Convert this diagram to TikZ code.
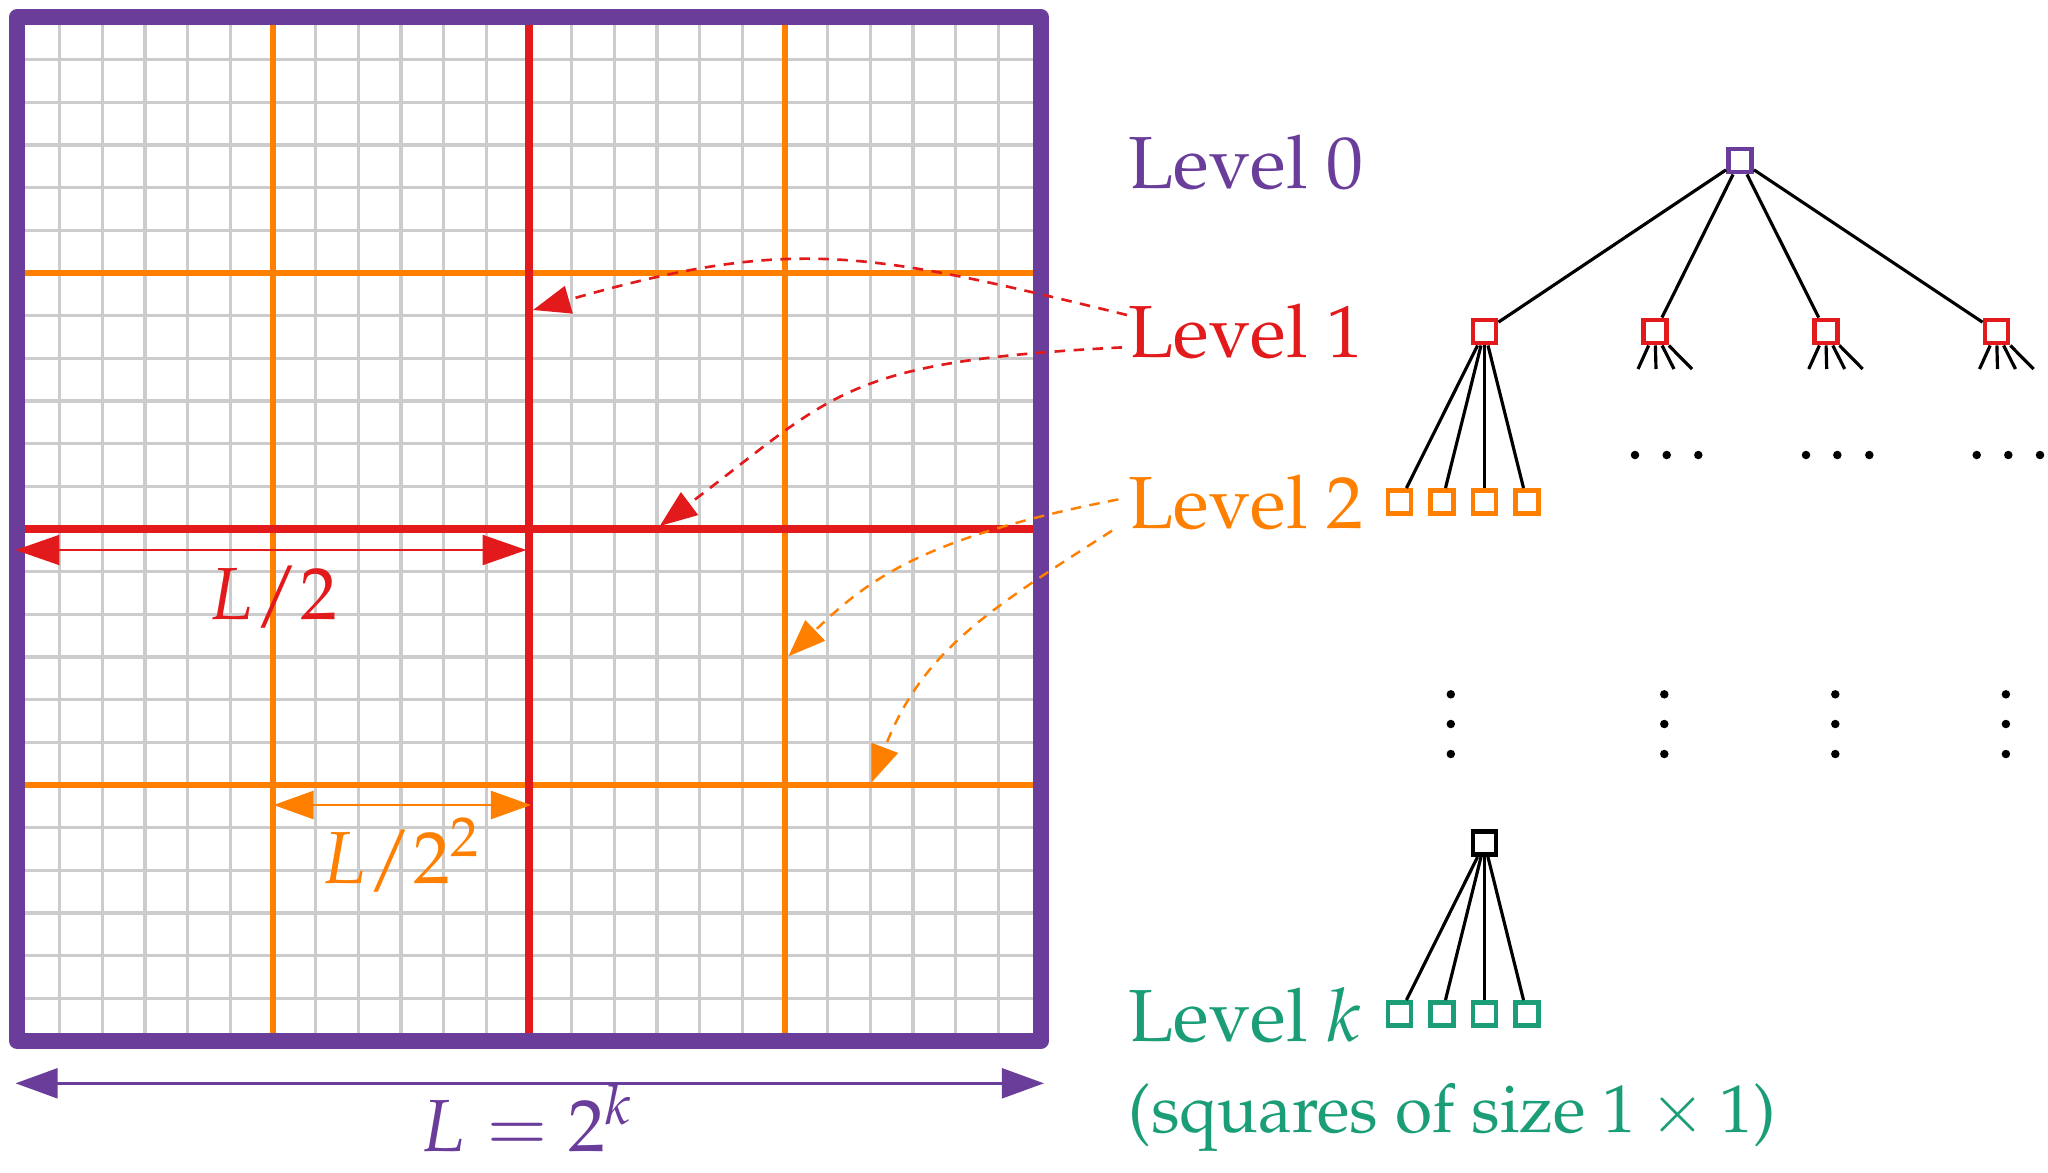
\documentclass[tikz,border=0pt]{standalone}
\usepackage[T1]{fontenc}
\usepackage{mathpazo}
\usetikzlibrary{arrows.meta}
\definecolor{cpurple}{HTML}{6A3D9A}
\definecolor{cred}{HTML}{E31A1C}
\definecolor{corange}{HTML}{FF7F00}
\definecolor{cgreen}{HTML}{1B9E77}
\definecolor{cgray}{HTML}{CCCCCC}
\begin{document}
\begin{tikzpicture}[x=0.01cm,y=-0.01cm,
  txt/.style={font=\fontsize{21}{25}\selectfont, inner sep=0pt},
  smalltxt/.style={font=\fontsize{19.2}{23}\selectfont, inner sep=0pt},
  gridl/.style={cgray, line width=0.95pt},
  orl/.style={corange, line width=1.7pt},
  rdl/.style={cred, line width=2.55pt},
  sq/.style={line width=1.4pt, minimum size=0.23cm, inner sep=0pt, fill=white},
  edge/.style={black, line width=0.9pt},
  dot/.style={circle, fill=black, inner sep=0pt, minimum size=0.085cm},
  dimred/.style={cred, line width=0.7pt, {Triangle[length=12.5pt,width=8.5pt]}-{Triangle[length=12.5pt,width=8.5pt]}},
  dimor/.style={corange, line width=0.6pt, {Triangle[length=11.4pt,width=8pt]}-{Triangle[length=11.4pt,width=8pt]}},
  dimpu/.style={cpurple, line width=0.8pt, {Triangle[length=12pt,width=8.5pt]}-{Triangle[length=12pt,width=8.5pt]}},
  dashr/.style={cred, line width=0.75pt, dash pattern=on 3pt off 2.4pt, -{Triangle[length=10.6pt,width=8pt]}},
  dasho/.style={corange, line width=0.7pt, dash pattern=on 3pt off 2.4pt, -{Triangle[length=10.6pt,width=8pt]}}
]
\useasboundingbox (0,0) rectangle (2048,1172);

% ---------- grid ----------
\foreach \i in {1,...,23}{
  \pgfmathsetmacro{\g}{17+\i*42.66667}
  \draw[gridl] (\g,17) -- (\g,1041);
  \draw[gridl] (17,\g) -- (1041,\g);
}
\foreach \g in {273,785}{
  \draw[orl] (\g,17) -- (\g,1041);
  \draw[orl] (17,\g) -- (1041,\g);
}
\draw[rdl] (529,17) -- (529,1041);
\draw[rdl] (17,529) -- (1041,529);
\draw[cpurple, line width=4.5pt, line join=round] (17,17) rectangle (1041,1041);

% ---------- dimension arrows ----------
\coordinate (h1l) at (15.5,550);
\coordinate (h1r) at (526.5,550);
\coordinate (h2l) at (273.5,805);
\coordinate (h2r) at (531,805);
\coordinate (h3l) at (15.5,1083.3);
\coordinate (h3r) at (1044,1083.3);
\draw[dimred] (h1l) -- (h1r);
\draw[dimor] (h2l) -- (h2r);
\draw[dimpu] (h3l) -- (h3r);
\node[txt, text=cred, anchor=base] (lhalf) at (273,619) {$L/2$};
\node[txt, text=corange, anchor=base] (lquarter) at (401,883) {$L/2^2$};
\node[txt, text=cpurple, anchor=base] (lfull) at (527,1151) {$L = 2^k$};

% ---------- level labels ----------
\node[txt, text=cpurple, anchor=base west] (lab0) at (1128,188) {Level 0};
\node[txt, text=cred, anchor=base west] (lab1) at (1128,357) {Level 1};
\node[txt, text=corange, anchor=base west] (lab2) at (1128,528) {Level 2};
\node[txt, text=cgreen, anchor=base west] (labk) at (1128,1041) {Level $k$};
\node[smalltxt, text=cgreen, anchor=base west] (labsq) at (1128,1132) {(squares of size $1\times 1$)};

% ---------- tree ----------
\node[sq, draw=cpurple] (r) at (1740,160.5) {};
\node[sq, draw=cred] (a1) at (1484.5,331.5) {};
\node[sq, draw=cred] (a2) at (1655,331.5) {};
\node[sq, draw=cred] (a3) at (1825.7,331.5) {};
\node[sq, draw=cred] (a4) at (1996.5,331.5) {};
\foreach \n in {a1,a2,a3,a4} \draw[edge] (r) -- (\n);

\node[sq, draw=corange] (b1) at (1399.5,502) {};
\node[sq, draw=corange] (b2) at (1442,502) {};
\node[sq, draw=corange] (b3) at (1484.5,502) {};
\node[sq, draw=corange] (b4) at (1527,502) {};
\foreach \n in {b1,b2,b3,b4} \draw[edge] (a1) -- (\n);

% stubs
\foreach \p/\x in {a2/1655,a3/1825.7,a4/1996.5}{
  \foreach \d [count=\j] in {-17,1,19,37}{
    \coordinate (\p s\j) at ({\x+\d},369);
    \draw[edge] (\p) -- (\p s\j);
  }
}

% horizontal dots
\foreach \x [count=\j] in {1635,1666.7,1698.3,1806,1837.3,1869.3,1976.7,2008.3,2040}
  \node[dot] (hd\j) at (\x,455) {};
% vertical dots
\foreach \x [count=\j] in {1450.8,1664.3,1835.3,2005.9}
  \foreach \y [count=\m] in {694.3,724,754}
    \node[dot] (vd\j\m) at (\x,\y) {};

\node[sq, draw=black] (c) at (1484.5,843) {};
\node[sq, draw=cgreen] (d1) at (1399.5,1014) {};
\node[sq, draw=cgreen] (d2) at (1442,1014) {};
\node[sq, draw=cgreen] (d3) at (1484.5,1014) {};
\node[sq, draw=cgreen] (d4) at (1527,1014) {};
\foreach \n in {d1,d2,d3,d4} \draw[edge] (c) -- (\n);

% ---------- dashed pointer arrows ----------
\coordinate (r1s) at (1127,315);
\coordinate (r1e) at (533,310);
\coordinate (r2s) at (1122,347.4);
\coordinate (r2e) at (659.8,526);
\coordinate (o1s) at (1118.3,499.4);
\coordinate (o1e) at (788.4,656.3);
\coordinate (o2s) at (1112,530.7);
\coordinate (o2e) at (871.4,782.6);
\draw[dashr] (r1s) .. controls (865,251) and (792.5,235.6) .. (r1e);
\draw[dashr] (r2s) .. controls (842,361.4) and (835.5,393.6) .. (r2e);
\draw[dasho] (o1s) .. controls (922,537.6) and (867.5,579.9) .. (o1e);
\draw[dasho] (o2s) .. controls (985.7,611.5) and (921.6,651.9) .. (o2e);
\end{tikzpicture}
\end{document}
